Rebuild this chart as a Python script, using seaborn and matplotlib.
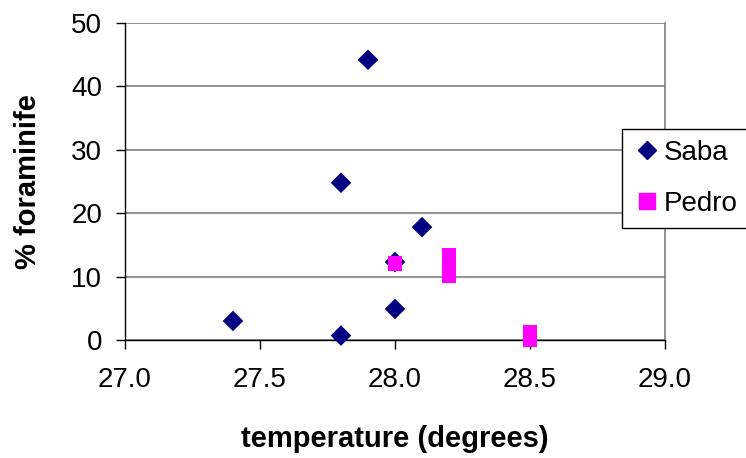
import matplotlib
matplotlib.use("Agg")
import matplotlib.pyplot as plt
from matplotlib.lines import Line2D
import seaborn as sns
import pandas as pd

# Saba samples
saba_temp = [27.4, 27.8, 27.8, 27.9, 28.0, 28.0, 28.1]
saba_pct = [3.0, 0.7, 24.8, 44.2, 12.3, 4.9, 17.8]

# Pedro samples
pedro_temp = [28.0, 28.2, 28.2, 28.2, 28.5, 28.5]
pedro_pct = [12.1, 13.4, 11.8, 10.2, 1.2, 0.0]

x_ticks = [27.0, 27.5, 28.0, 28.5, 29.0]
y_ticks = [0, 10, 20, 30, 40, 50]

df = pd.DataFrame({
    "temperature": saba_temp + pedro_temp,
    "pct": saba_pct + pedro_pct,
    "site": ["Saba"] * len(saba_temp) + ["Pedro"] * len(pedro_temp),
})

sns.set_style("white")
plt.rcParams["font.family"] = ["Liberation Sans", "DejaVu Sans"]
plt.rcParams["text.color"] = "black"
plt.rcParams["axes.labelcolor"] = "black"
plt.rcParams["xtick.color"] = "black"
plt.rcParams["ytick.color"] = "black"

fig = plt.figure(figsize=(7.46, 4.58), dpi=100)
ax = fig.add_axes([125 / 746, 1 - 340 / 458, 540 / 746, 317 / 458])

sns.scatterplot(
    data=df, x="temperature", y="pct", hue="site", style="site",
    palette={"Saba": "#000080", "Pedro": "#FF00FF"},
    markers={"Saba": "D", "Pedro": "s"},
    s=110, linewidth=0, ax=ax, legend=False, clip_on=False, zorder=3,
)

ax.set_xlim(27.0, 29.0)
ax.set_ylim(0, 50)
ax.set_xticks(x_ticks)
ax.set_xticklabels([f"{v:.1f}" for v in x_ticks])
ax.set_yticks(y_ticks)
ax.set_yticklabels([str(v) for v in y_ticks])
ax.tick_params(axis="both", labelsize=20, length=6.5, width=1, colors="black",
               direction="out", bottom=True, left=True)
ax.tick_params(axis="x", pad=13)
ax.tick_params(axis="y", pad=10)

ax.yaxis.grid(True, color="#808080", linewidth=1.2)
ax.xaxis.grid(False)
ax.set_axisbelow(True)
for side in ["left", "bottom"]:
    ax.spines[side].set_color("black")
    ax.spines[side].set_linewidth(1)
ax.spines["top"].set_visible(False)
ax.spines["right"].set_color("#808080")
ax.spines["right"].set_linewidth(1.2)

ax.set_xlabel("temperature (degrees)", fontsize=21, fontweight="bold",
              labelpad=23, color="black")
ax.set_ylabel("% foraminife", fontsize=21, fontweight="bold",
              labelpad=21, color="black")

handles = [
    Line2D([], [], marker="D", color="#000080", linestyle="none", markersize=9),
    Line2D([], [], marker="s", color="#FF00FF", linestyle="none", markersize=11),
]
leg = fig.legend(handles, ["Saba", "Pedro"], loc="upper left",
                 bbox_to_anchor=(622 / 746, 1 - 129 / 458), fontsize=20,
                 frameon=True, fancybox=False, framealpha=1, edgecolor="black",
                 handlelength=1.0, handletextpad=0.12, labelspacing=0.9,
                 borderpad=0.4, borderaxespad=0)
leg.get_frame().set_linewidth(1)

fig.savefig("out.png", dpi=100)
